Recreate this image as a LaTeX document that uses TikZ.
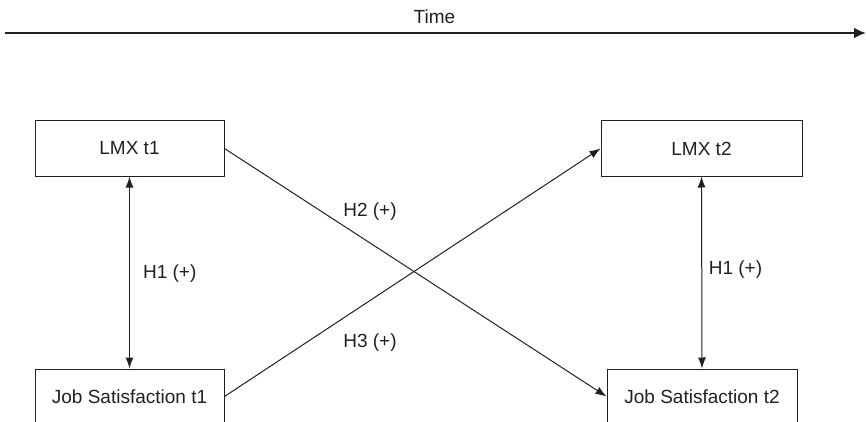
\documentclass[tikz,border=0pt]{standalone}
\usepackage{fontspec}
\setmainfont{Liberation Sans}
\usetikzlibrary{arrows.meta}
\definecolor{ink}{HTML}{231F20}
\begin{document}
\begin{tikzpicture}[x=1pt,y=-1pt,
  every node/.style={font=\fontsize{19}{23}\selectfont, text=ink},
  construct/.style={draw=ink, line width=1pt, minimum height=55pt, inner sep=0pt},
  link/.style={draw=ink, line width=1pt, -{Latex[length=11pt,width=8pt]}},
  twoway/.style={draw=ink, line width=1pt, {Latex[length=11pt,width=8pt]}-{Latex[length=11pt,width=8pt]}},
  hyp/.style={inner sep=0pt, anchor=base}]
  \useasboundingbox (0,0) rectangle (866,422);
  \clip (0,0) rectangle (866,422);

  % time axis
  \node[hyp] (time) at (434.5,24) {Time};
  \coordinate (t0) at (5,33);
  \coordinate (t1) at (866,33);
  \draw[draw=ink, line width=2.6pt, -{Latex[length=12pt,width=11pt]}] (t0) -- (t1);

  % constructs at both waves
  \node[construct, minimum width=189pt] (lmx1) at (129.5,148.5) {LMX t1};
  \node[construct, minimum width=201pt] (lmx2) at (701.5,148.5) {LMX t2};
  \node[construct, minimum width=189pt] (js1) at (129.5,396.5) {Job Satisfaction t1};
  \node[construct, minimum width=190pt] (js2) at (702,396.5) {Job Satisfaction t2};

  % synchronous correlations
  \draw[twoway] (lmx1.south) -- (js1.north);
  \draw[twoway] (lmx2.south) -- (js2.north);

  % cross-lagged paths
  \draw[link] (lmx1.east) -- (js2.west);
  \draw[link] (js1.east) -- (lmx2.west);

  % hypothesis labels
  \node[hyp] (h1a) at (169.7,278) {H1 (+)};
  \node[hyp] (h1b) at (735.5,274.3) {H1 (+)};
  \node[hyp] (h2) at (370,216.7) {H2 (+)};
  \node[hyp] (h3) at (370,347.5) {H3 (+)};
\end{tikzpicture}
\end{document}
